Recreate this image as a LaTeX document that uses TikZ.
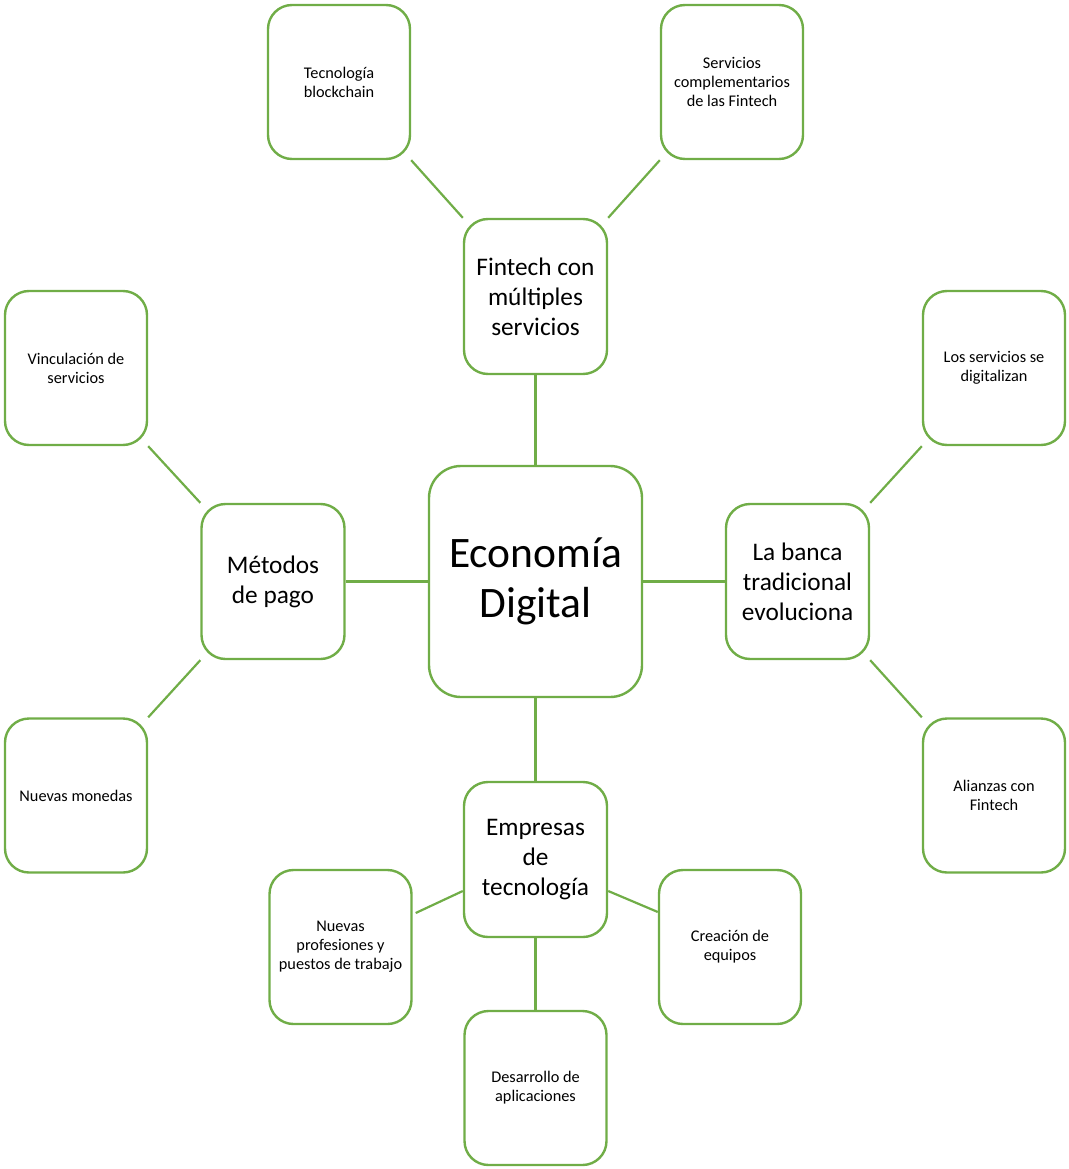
\documentclass[tikz,border=0pt]{standalone}
\usepackage{fontspec}
\setmainfont{Carlito}
\definecolor{boxgreen}{HTML}{70AD47}
\begin{document}
\begin{tikzpicture}[x=1pt,y=-1pt,
  box/.style={draw=boxgreen, line width=2.4pt, rounded corners=24pt, fill=white, inner sep=0pt, align=center, text=black},
  small/.style={box, minimum width=142pt, minimum height=154pt, font=\fontsize{16.3}{19}\selectfont},
  mid/.style={box, minimum width=143pt, minimum height=155pt, font=\fontsize{25.3}{30}\selectfont},
  big/.style={box, minimum width=213pt, minimum height=231pt, rounded corners=32pt, font=\fontsize{43.5}{50}\selectfont},
  link/.style={draw=boxgreen, line width=2.2pt}]
\useasboundingbox (0,0) rectangle (1068,1169);
% centre
\node[big] (eco) at (535.5,581.5) {Economía\\Digital};
% level 1
\node[mid] (fin) at (535.5,296.5) {Fintech con\\múltiples\\servicios};
\node[mid] (met) at (273,581.5) {Métodos\\de pago};
\node[mid] (ban) at (797.5,581.5) {La banca\\tradicional\\evoluciona};
\node[mid] (emp) at (535.5,859.5) {Empresas\\de\\tecnología};
% level 2
\node[small] (blk) at (339,82) {Tecnología\\blockchain};
\node[small] (svc) at (732,82) {Servicios\\complementarios\\de las Fintech};
\node[small] (vin) at (76,368) {Vinculación de\\servicios};
\node[small] (mon) at (76,795.5) {Nuevas monedas};
\node[small] (dig) at (994,368) {Los servicios se\\digitalizan};
\node[small] (ali) at (994,795.5) {Alianzas con\\Fintech};
\node[small] (pro) at (340.5,947) {Nuevas\\profesiones y\\puestos de trabajo};
\node[small] (cre) at (730,947) {Creación de\\equipos};
\node[small] (des) at (535.5,1088) {Desarrollo de\\aplicaciones};
% connectors
\draw[link] (fin.south) -- (eco.north);
\draw[link] (met.east) -- (eco.west);
\draw[link] (ban.west) -- (eco.east);
\draw[link] (emp.north) -- (eco.south);
\draw[link] (blk.south east) -- (fin.north west);
\draw[link] (svc.south west) -- (fin.north east);
\draw[link] (vin.south east) -- (met.north west);
\draw[link] (mon.north east) -- (met.south west);
\draw[link] (dig.south west) -- (ban.north east);
\draw[link] (ali.north west) -- (ban.south east);
\draw[link] ([xshift=3pt,yshift=34pt]pro.east) -- ([yshift=-31.5pt]emp.west);
\draw[link] ([yshift=-31.5pt]emp.east) -- ([yshift=35pt]cre.west);
\draw[link] (emp.south) -- (des.north);
\end{tikzpicture}
\end{document}
